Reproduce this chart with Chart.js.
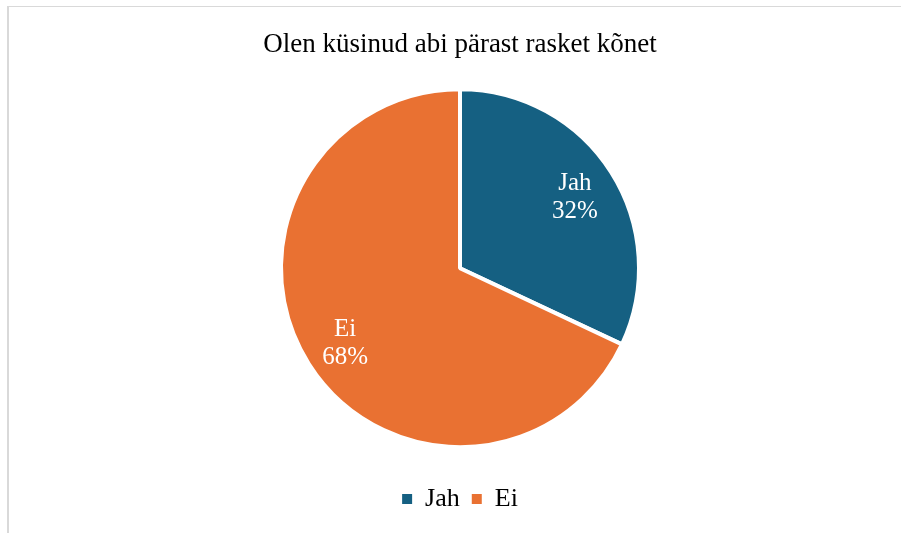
<!DOCTYPE html>
<html>
<head>
<meta charset="utf-8">
<script src="https://cdn.jsdelivr.net/npm/chart.js@4/dist/chart.umd.min.js"></script>
<style>
  body { margin: 0; background: #fff; overflow: hidden; }
  #frame {
    position: absolute; left: 7px; top: 6px; width: 1000px; height: 1000px;
    border-left: 2px solid #d9d9d9; border-top: 1px solid #d9d9d9;
  }
  #pieChart { position: absolute; left: 0; top: 0; }
</style>
</head>
<body>
<div id="frame"></div>
<canvas id="pieChart" width="901" height="533"></canvas>
<script>
const chartTitle = 'Olen küsinud abi pärast rasket kõnet';
const categories = ['Jah', 'Ei'];
const values = [32, 68];           // percent
const sliceColors = ['#156082', '#E97132'];

const serif = "'Liberation Serif', 'Times New Roman', serif";

// draws "Jah / 32%" style labels inside each slice
const sliceLabels = {
    id: 'sliceLabels',
    afterDatasetsDraw(chart) {
        const ctx = chart.ctx;
        const meta = chart.getDatasetMeta(0);
        const total = values.reduce((a, b) => a + b, 0);
        ctx.save();
        ctx.fillStyle = '#ffffff';
        ctx.font = '25px ' + serif;
        ctx.textAlign = 'center';
        ctx.textBaseline = 'middle';
        meta.data.forEach((arc, i) => {
            const p = arc.getProps(['x', 'y', 'startAngle', 'endAngle', 'outerRadius'], true);
            const mid = (p.startAngle + p.endAngle) / 2;
            const r = p.outerRadius * 0.76;
            const x = p.x + Math.cos(mid) * r;
            const y = p.y + Math.sin(mid) * r + 2;
            const pct = Math.round(values[i] / total * 100) + '%';
            ctx.fillText(categories[i], x, y - 14);
            ctx.fillText(pct, x, y + 14);
        });
        ctx.restore();
    }
};

const ctx = document.getElementById('pieChart').getContext('2d');
const chart = new Chart(ctx, {
    type: 'pie',
    data: {
        labels: categories,
        datasets: [{
            data: values,
            backgroundColor: sliceColors,
            borderColor: '#ffffff',
            borderWidth: 4,
            radius: 179
        }]
    },
    options: {
        responsive: false,
        animation: false,
        layout: { padding: { left: 19, right: 0, top: 0, bottom: 11 } },
        plugins: {
            title: {
                display: true,
                text: chartTitle,
                color: '#000000',
                font: { family: serif, size: 27, weight: 'normal' },
                padding: { top: 29, bottom: 1 }
            },
            legend: {
                display: true,
                position: 'bottom',
                labels: {
                    color: '#000000',
                    font: { family: serif, size: 26 },
                    boxWidth: 10,
                    boxHeight: 10,
                    padding: 12,
                    generateLabels(chart) {
                        // plain filled squares, no white slice border on them
                        const items = Chart.overrides.pie.plugins.legend.labels.generateLabels(chart);
                        items.forEach(item => { item.lineWidth = 0; item.strokeStyle = item.fillStyle; });
                        return items;
                    }
                }
            },
            tooltip: { enabled: false }
        }
    },
    plugins: [sliceLabels]
});
</script>
</body>
</html>
